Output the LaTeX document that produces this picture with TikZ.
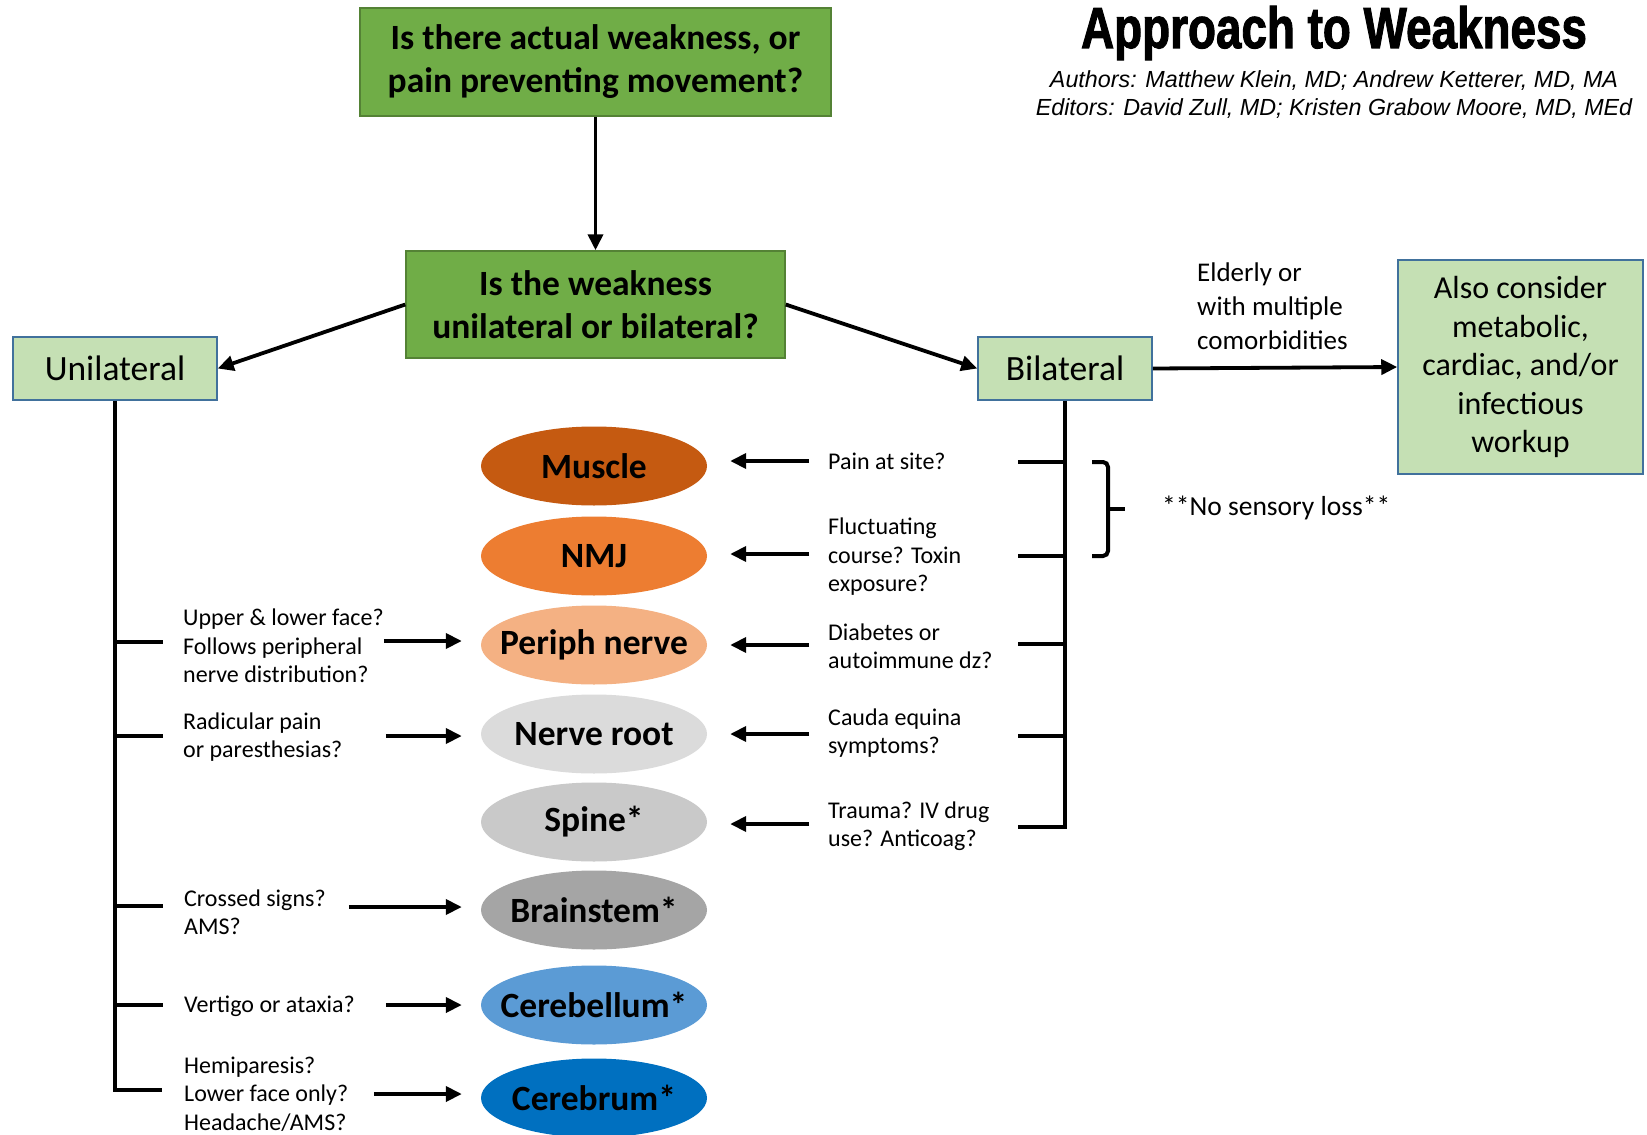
\documentclass[tikz,border=0pt]{standalone}
\usepackage{fontspec}
\setmainfont{Carlito}
\newfontface\titlefont{Liberation Sans Bold}[FakeBold=2]
\newfontface\authfont{Liberation Sans Italic}
\usetikzlibrary{arrows.meta,shapes.geometric}
\definecolor{qgreen}{HTML}{70AD47}
\definecolor{qline}{HTML}{548235}
\definecolor{lgreen}{HTML}{C5E0B4}
\definecolor{bline}{HTML}{41719C}
\definecolor{muscle}{HTML}{C55A11}
\definecolor{nmj}{HTML}{ED7D31}
\definecolor{periph}{HTML}{F4B183}
\definecolor{root}{HTML}{DBDBDB}
\definecolor{spine}{HTML}{C9C9C9}
\definecolor{stem}{HTML}{A5A5A5}
\definecolor{cbell}{HTML}{5B9BD5}
\definecolor{cbrum}{HTML}{0070C0}
\begin{document}
\begin{tikzpicture}[x=1pt,y=-1pt,
  qbox/.style={draw=qline,line width=1.5pt,fill=qgreen,align=center,inner sep=0pt,
    font=\fontsize{35.5}{43}\selectfont\bfseries},
  sbox/.style={draw=bline,line width=1.5pt,fill=lgreen,align=center,inner sep=0pt,
    minimum height=63pt,font=\fontsize{35.5}{38.5}\selectfont},
  organ/.style={ellipse,minimum width=226pt,minimum height=79pt,inner sep=0pt,
    font=\fontsize{35.5}{40}\selectfont\bfseries},
  note/.style={anchor=west,align=left,inner sep=0pt,font=\fontsize{24}{28.5}\selectfont},
  arr/.style={line width=3.8pt,-{Triangle[length=16pt,width=15pt]}},
  inarr/.style={arr,shorten >=19pt},
  trunk/.style={line width=4.5pt}]
  \useasboundingbox[fill=white] (0,0) rectangle (1647,1135);
  % title
  \node (title) at (1334,33) {\scalebox{0.79}[1]{\fontsize{58}{60}\titlefont Approach to Weakness}};
  \node (auth) at (1334,81) {\fontsize{23.3}{25}\authfont Authors: Matthew Klein, MD; Andrew Ketterer, MD, MA};
  \node (edit) at (1334,109) {\fontsize{23.3}{25}\authfont Editors: David Zull, MD; Kristen Grabow Moore, MD, MEd};
  % questions
  \node [qbox,minimum width=471pt,minimum height=108pt] (q1) at (595.5,62) {Is there actual weakness, or\\pain preventing movement?};
  \node [qbox,minimum width=379pt,minimum height=107pt] (q2) at (595.5,304.5) {Is the weakness\\unilateral or bilateral?};
  \node [sbox,minimum width=204pt] (uni) at (115,368.5) {Unilateral};
  \node [sbox,minimum width=174pt] (bil) at (1065,368.5) {Bilateral};
  \node [sbox,minimum width=245pt,minimum height=214pt,font=\fontsize{32}{38.5}\selectfont] (also) at (1520.5,367) {Also consider\\metabolic,\\cardiac, and/or\\infectious\\workup};
  \node [note,font=\fontsize{27}{34}\selectfont] (eld) at (1197,306) {Elderly or\\with multiple\\comorbidities};
  \draw [arr] (q1.south) -- (q2.north);
  \draw [arr] (q2.west) -- (uni.east);
  \draw [arr] (q2.east) -- (bil.west);
  \draw [arr] (bil.east) -- (also.west);
  % localisation
  \node [organ,fill=muscle] (mus) at (594,466) {\makebox[0pt]{Muscle}};
  \node [organ,fill=nmj] (nmj) at (594,556) {\makebox[0pt]{NMJ}};
  \node [organ,fill=periph] (per) at (594,645) {\makebox[0pt]{Periph nerve}};
  \node [organ,fill=root] (root) at (594,734) {\makebox[0pt]{Nerve root}};
  \node [organ,fill=spine] (spi) at (594,822) {\makebox[0pt]{Spine*}};
  \node [organ,fill=stem] (stem) at (594,910) {\makebox[0pt]{Brainstem*}};
  \node [organ,fill=cbell] (cbl) at (594,1005) {\makebox[0pt]{Cerebellum*}};
  \node [organ,fill=cbrum] (cbr) at (594,1098) {\makebox[0pt]{Cerebrum*}};
  % unilateral side
  \draw [trunk] (uni.south) -- (uni.south |- 0,1090) -- ++(47,0);
  \foreach \y in {642,736,906,1005}
    \draw [trunk] (115,\y) -- ++(48,0);
  \node [note] (l1) at (183,646) {Upper \& lower face?\\Follows peripheral\\nerve distribution?};
  \node [note] (l2) at (183,737) {Radicular pain\\or paresthesias?};
  \node [note] (l3) at (184,912) {Crossed signs?\\AMS?};
  \node [note] (l4) at (184,1006) {Vertigo or ataxia?};
  \node [note] (l5) at (184,1094) {Hemiparesis?\\Lower face only?\\Headache/AMS?};
  \draw [inarr] ([xshift=-97pt,yshift=4pt]per.west) -- ([yshift=4pt]per.west);
  \draw [inarr] ([xshift=-95pt,yshift=-2pt]root.west) -- ([yshift=-2pt]root.west);
  \draw [inarr] ([xshift=-132pt,yshift=3pt]stem.west) -- ([yshift=3pt]stem.west);
  \draw [inarr] ([xshift=-95pt]cbl.west) -- (cbl.west);
  \draw [inarr] ([xshift=-107pt,yshift=4pt]cbr.west) -- ([yshift=4pt]cbr.west);
  % bilateral side
  \draw [trunk] (bil.south) -- (bil.south |- 0,827) -- ++(-47,0);
  \foreach \y in {462,556,644,736}
    \draw [trunk] (1065,\y) -- ++(-47,0);
  \node [note] (r1) at (828,461) {Pain at site?};
  \node [note] (r2) at (828,557) {Fluctuating\\course? Toxin\\exposure?};
  \node [note] (r3) at (828,646) {Diabetes or\\autoimmune dz?};
  \node [note] (r4) at (828,733) {Cauda equina\\symptoms?};
  \node [note] (r5) at (828,826) {Trauma? IV drug\\use? Anticoag?};
  \draw [inarr,shorten >=23pt] ([xshift=102pt,yshift=5pt]mus.east) -- ([yshift=5pt]mus.east);
  \draw [inarr,shorten >=23pt] ([xshift=102pt,yshift=2pt]nmj.east) -- ([yshift=2pt]nmj.east);
  \draw [inarr,shorten >=23pt] ([xshift=102pt]per.east) -- (per.east);
  \draw [inarr,shorten >=23pt] ([xshift=102pt]root.east) -- (root.east);
  \draw [inarr,shorten >=23pt] ([xshift=102pt,yshift=-2pt]spi.east) -- ([yshift=-2pt]spi.east);
  \draw [line width=4pt,rounded corners=5pt] (1092,462) -- (1108,462) -- (1108,556) -- (1092,556);
  \draw [line width=4pt] (1108,509) -- (1125,509);
  \node [note,font=\fontsize{27.5}{30}\selectfont] (sens) at (1162,508) {**No sensory loss**};
\end{tikzpicture}
\end{document}
